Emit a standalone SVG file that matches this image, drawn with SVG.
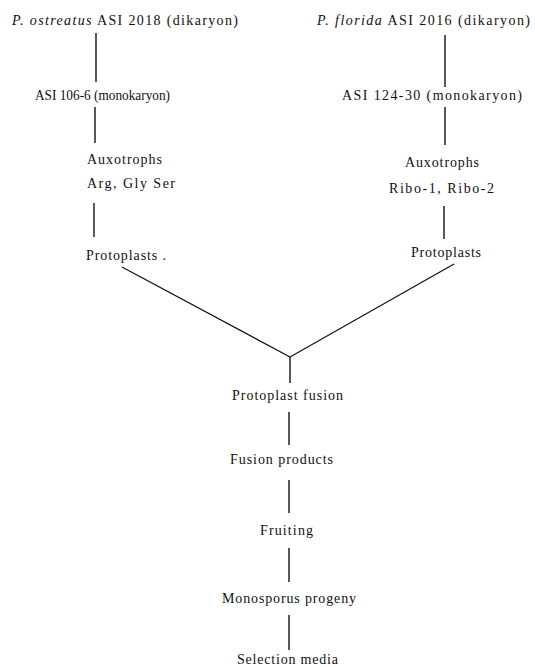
<svg xmlns="http://www.w3.org/2000/svg" width="535" height="667" viewBox="0 0 535 667">
<style>
text{font-family:'Liberation Serif','DejaVu Serif',serif;font-size:14px;fill:#111}
.i{font-style:italic}
.c line{stroke:#111;stroke-width:1.4;stroke-linecap:butt}
.c .d{stroke-width:1.2}
</style>
<rect width="535" height="667" fill="#fff"/>
<g class="c" id="connectors">
<line x1="96" y1="33" x2="96" y2="82"/>
<line x1="95" y1="107" x2="95" y2="143"/>
<line x1="94" y1="203" x2="94" y2="237"/>
<line x1="445" y1="35" x2="445" y2="87"/>
<line x1="445" y1="107" x2="445" y2="145"/>
<line x1="444" y1="206" x2="444" y2="239"/>
<line class="d" x1="122" y1="267" x2="290" y2="357"/>
<line class="d" x1="454" y1="264" x2="290" y2="357"/>
<line x1="290" y1="357" x2="290" y2="383"/>
<line x1="289" y1="412" x2="289" y2="445"/>
<line x1="289" y1="480" x2="289" y2="513"/>
<line x1="289" y1="548" x2="289" y2="582"/>
<line x1="289" y1="615" x2="289" y2="650"/>
</g>
<g id="n-ostreatus"><text font-family="Liberation Serif, serif" x="12" y="25" textLength="226" lengthAdjust="spacing"><tspan class="i">P. ostreatus</tspan> ASI 2018 (dikaryon)</text></g>
<g id="n-asi106"><text font-family="Liberation Serif, serif" x="35" y="100" textLength="135" lengthAdjust="spacingAndGlyphs">ASI 106-6 (monokaryon)</text></g>
<g id="n-aux-left"><text font-family="Liberation Serif, serif" x="87" y="164" textLength="75" lengthAdjust="spacing">Auxotrophs</text><text font-family="Liberation Serif, serif" x="87" y="188" textLength="88" lengthAdjust="spacing">Arg, Gly Ser</text></g>
<g id="n-proto-left"><text font-family="Liberation Serif, serif" x="86" y="260" textLength="80" lengthAdjust="spacing">Protoplasts .</text></g>
<g id="n-florida"><text font-family="Liberation Serif, serif" x="317" y="25" textLength="213" lengthAdjust="spacing"><tspan class="i">P. florida</tspan> ASI 2016 (dikaryon)</text></g>
<g id="n-asi124"><text font-family="Liberation Serif, serif" x="342" y="100" textLength="180" lengthAdjust="spacing">ASI 124-30 (monokaryon)</text></g>
<g id="n-aux-right"><text font-family="Liberation Serif, serif" x="405" y="167" textLength="74" lengthAdjust="spacing">Auxotrophs</text><text font-family="Liberation Serif, serif" x="389" y="193" textLength="105" lengthAdjust="spacing">Ribo-1, Ribo-2</text></g>
<g id="n-proto-right"><text font-family="Liberation Serif, serif" x="411" y="257" textLength="70" lengthAdjust="spacing">Protoplasts</text></g>
<g id="n-fusion"><text font-family="Liberation Serif, serif" x="232" y="400" textLength="111" lengthAdjust="spacing">Protoplast fusion</text></g>
<g id="n-products"><text font-family="Liberation Serif, serif" x="230" y="464" textLength="103" lengthAdjust="spacing">Fusion products</text></g>
<g id="n-fruiting"><text font-family="Liberation Serif, serif" x="260" y="535" textLength="53" lengthAdjust="spacing">Fruiting</text></g>
<g id="n-progeny"><text font-family="Liberation Serif, serif" x="222" y="603" textLength="134" lengthAdjust="spacing">Monosporus progeny</text></g>
<g id="n-selection"><text font-family="Liberation Serif, serif" x="237" y="664" textLength="101" lengthAdjust="spacing">Selection media</text></g>
</svg>
